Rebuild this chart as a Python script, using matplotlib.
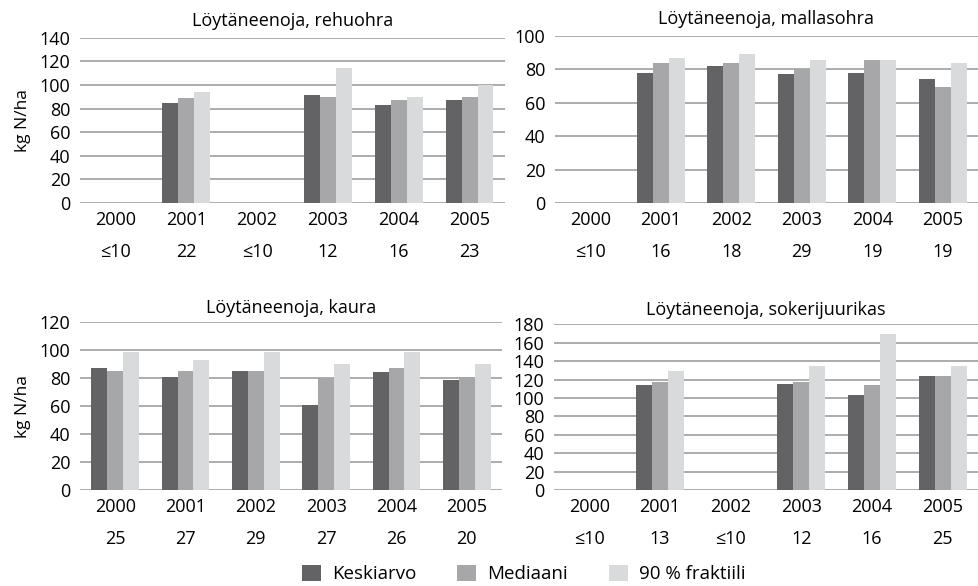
import matplotlib.pyplot as plt
import numpy as np

plt.rcParams['font.family'] = ['Open Sans', 'DejaVu Sans']

years = ['2000', '2001', '2002', '2003', '2004', '2005']
series_names = ['Keskiarvo', 'Mediaani', '90 % fraktiili']
colors = ['#636365', '#a7a7a9', '#d9dadc']

# rehuohra
rehu_counts = ['≤10', '22', '≤10', '12', '16', '23']
rehu_mean = [np.nan, 85, np.nan, 91.5, 83, 87]
rehu_median = [np.nan, 89, np.nan, 90, 87, 90]
rehu_p90 = [np.nan, 94, np.nan, 114, 90, 100]

# mallasohra
malla_counts = ['≤10', '16', '18', '29', '19', '19']
malla_mean = [np.nan, 78, 82, 77, 78, 74]
malla_median = [np.nan, 84, 84, 80, 85.5, 69.5]
malla_p90 = [np.nan, 87, 89, 85.5, 85.5, 84]

# kaura
kaura_counts = ['25', '27', '29', '27', '26', '20']
kaura_mean = [87.5, 81, 85, 60.5, 84.5, 79]
kaura_median = [85, 85, 85, 80, 87.5, 81]
kaura_p90 = [99, 93, 99, 90, 99, 90]

# sokerijuurikas
sokeri_counts = ['≤10', '13', '≤10', '12', '16', '25']
sokeri_mean = [np.nan, 114, np.nan, 115, 103, 124]
sokeri_median = [np.nan, 117, np.nan, 117, 114, 124]
sokeri_p90 = [np.nan, 129, np.nan, 135, 170, 135]

W, H = 979, 586
fig = plt.figure(figsize=(W / 100, H / 100), dpi=100)


def px_axes(x0, x1, ytop, ybot):
    return fig.add_axes([x0 / W, 1 - ybot / H, (x1 - x0) / W, (ybot - ytop) / H])


panels = [
    (px_axes(80, 505, 37.7, 203), 'Löytäneenoja, rehuohra', rehu_mean, rehu_median, rehu_p90,
     rehu_counts, 140, 20, True, 8.5),
    (px_axes(555, 978, 36, 203), 'Löytäneenoja, mallasohra', malla_mean, malla_median, malla_p90,
     malla_counts, 100, 20, False, 8.5),
    (px_axes(80, 502, 322.3, 490), 'Löytäneenoja, kaura', kaura_mean, kaura_median, kaura_p90,
     kaura_counts, 120, 20, True, 7),
    (px_axes(554, 978, 324.3, 490), 'Löytäneenoja, sokerijuurikas', sokeri_mean, sokeri_median,
     sokeri_p90, sokeri_counts, 180, 20, False, 7),
]

fs = 13
x = np.arange(len(years))
bw = 0.225
for ax, title, mean, median, p90, counts, ymax, step, ylab, tpad in panels:
    bars = []
    for i, (vals, c) in enumerate(zip([mean, median, p90], colors)):
        b = ax.bar(x + (i - 1) * bw, vals, bw, color=c, zorder=3, label=series_names[i])
        bars.append(b)
    ax.set_xlim(-0.5, len(years) - 0.5)
    ax.set_ylim(0, ymax)
    ax.set_yticks(np.arange(0, ymax + 1, step))
    ax.yaxis.grid(True, color='#969696', linewidth=1.1, zorder=0)
    for s in ax.spines.values():
        s.set_visible(False)
    ax.set_xticks(x)
    ax.set_xticklabels(years)
    ax.tick_params(axis='both', length=0, labelsize=fs)
    ax.tick_params(axis='y', pad=7)
    ax.tick_params(axis='x', pad=6)
    for xi, c in zip(x, counts):
        ax.annotate(c, xy=(xi, 0), xycoords=('data', 'axes fraction'),
                    xytext=(0, -35.5), textcoords='offset points',
                    ha='center', va='center', fontsize=fs)
    ax.set_title(title, fontsize=fs, pad=tpad)
    if ylab:
        ax.set_ylabel('kg N/ha', fontsize=12.5, labelpad=6)

handles = bars
fig.legend(handles, series_names, loc='center', bbox_to_anchor=(0.535, 1 - 574 / H),
           ncol=3, frameon=False, fontsize=13.5, handlelength=1.0, handleheight=1.0,
           handletextpad=0.6, columnspacing=2.2, borderaxespad=0)

fig.savefig('out.png', dpi=100)
